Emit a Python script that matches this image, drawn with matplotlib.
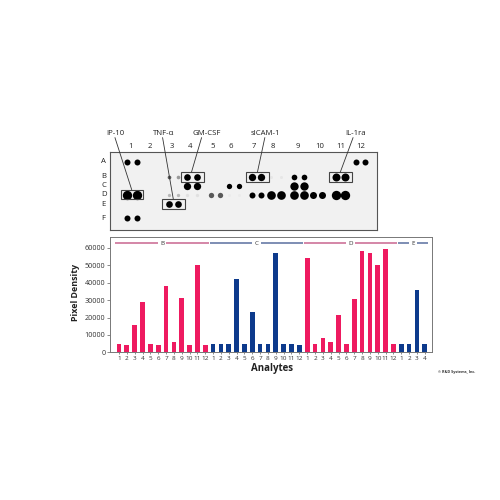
import matplotlib
matplotlib.use("Agg")
import matplotlib.pyplot as plt
from matplotlib.patches import Rectangle

plt.rcParams["font.family"] = ["Open Sans", "DejaVu Sans"]

# bar chart data
section_b = [4600, 4300, 15700, 28900, 4600, 4400, 38300, 5800, 31000, 4300, 50200, 4400]
section_c = [4500, 4500, 4500, 42000, 4500, 23000, 4500, 4500, 57100, 4600, 5000, 4200]
section_d = [54200, 4600, 8000, 5900, 21300, 5000, 30500, 58400, 57100, 50400, 59400, 4800]
section_e = [5000, 4600, 35600, 4600]
section_names = ["B", "C", "D", "E"]
y_ticks = [0, 10000, 20000, 30000, 40000, 50000, 60000]

# blot data, one duplicate pair per entry (zoomed pixel scale)
col_names = ["1", "2", "3", "4", "5", "6", "7", "8", "9", "10", "11", "12"]
col_label_x = [123, 181, 247, 301, 368, 424, 493, 550, 623, 689, 754, 813]
row_names = ["A", "B", "C", "D", "E", "F"]
row_y = [125, 170, 197, 224, 252, 294]
spot_col_x = [112, 798, 237, 292, 487, 545, 614, 739, 292, 418, 614, 112, 237, 292, 362, 418, 487, 545, 614, 670, 739, 237, 112]
spot_row = [0, 0, 1, 1, 1, 1, 1, 1, 2, 2, 2, 3, 3, 3, 3, 3, 3, 3, 3, 3, 3, 4, 5]
spot_diam = [18, 18, 11, 20, 22, 9, 17, 24, 22, 16, 25, 28, 10, 10, 16, 9, 18, 26, 26, 21, 28, 20, 18]
spot_shade = [0.0, 0.0, 0.35, 0.0, 0.0, 0.9, 0.0, 0.0, 0.0, 0.0, 0.0, 0.0, 0.72, 0.88, 0.35, 0.92, 0.0, 0.0, 0.0, 0.0, 0.0, 0.0, 0.0]
pair_gap = 28

box_names = ["IP-10", "TNF-\u03b1", "GM-CSF", "sICAM-1", "IL-1ra"]
box_left = [94, 217, 272, 469, 719]
box_top = [208, 236, 155, 155, 155]
box_bottom = [238, 266, 185, 185, 185]
box_right = [160, 284, 342, 537, 787]
label_x = [75, 220, 350, 528, 797]
line_top_x = [75, 218, 335, 525, 790]
line_end_x = [125, 250, 305, 503, 752]


def px_axes(fig, left, top, right, bottom):
    return fig.add_axes([left / 500, 1 - bottom / 500, (right - left) / 500, (bottom - top) / 500])


fig = plt.figure(figsize=(5, 5), dpi=100)

# top panel, the array image
ax_blot = px_axes(fig, 110, 152, 377, 230)
ax_blot.set_xlim(60, 862)
ax_blot.set_ylim(330, 95)
ax_blot.set_facecolor("#f1f1f1")
ax_blot.set_xticks([])
ax_blot.set_yticks([])
for sp in ax_blot.spines.values():
    sp.set_color("#555555")
    sp.set_linewidth(0.8)

for x, r, d, shade in zip(spot_col_x, spot_row, spot_diam, spot_shade):
    for k in range(2):
        # the right spot of the B3 pair is paler
        g = shade
        if k == 1 and x == 237 and r == 1:
            g = 0.6
        ax_blot.scatter(x + k * pair_gap, row_y[r], s=(d / 3 * 0.72) ** 2, color=str(g), linewidths=0, zorder=3)

for i in range(len(box_names)):
    ax_blot.add_patch(Rectangle((box_left[i], box_top[i]), box_right[i] - box_left[i], box_bottom[i] - box_top[i],
                                fill=False, edgecolor="#444444", linewidth=0.8, zorder=4))
    ax_blot.plot([line_top_x[i], line_end_x[i]], [52, box_top[i]], color="#333333", lw=0.6, clip_on=False, zorder=4)
    ax_blot.text(label_x[i], 38, box_names[i], ha="center", va="center", fontsize=5.6, color="#222222")

for name, x in zip(col_names, col_label_x):
    ax_blot.text(x, 77, name, ha="center", va="center", fontsize=5.6, color="#222222")
for name, y in zip(row_names, row_y):
    ax_blot.text(41, y, name, ha="center", va="center", fontsize=5.6, color="#222222")

# bottom panel, the densities
sections = [section_b, section_c, section_d, section_e]
colors = ["#ee1a60", "#0d3a8c", "#ee1a60", "#0d3a8c"]
line_colors = ["#c9668f", "#5a6f9f", "#c9668f", "#5a6f9f"]

ax = px_axes(fig, 110, 237, 432, 352.3)
pos = 0
ticks = []
tick_labels = []
for vals, c, lc, name in zip(sections, colors, line_colors, section_names):
    n = len(vals)
    xs = list(range(pos, pos + n))
    ax.bar(xs, vals, width=0.6, color=c)
    ticks += xs
    tick_labels += [str(j + 1) for j in range(n)]
    # section header line with the letter in the gap
    mid = pos + (n - 1) / 2
    gap = 0.55
    y_line = 62800
    ax.plot([pos - 0.45, mid - gap], [y_line, y_line], color=lc, lw=1.1, solid_capstyle="butt")
    ax.plot([mid + gap, pos + n - 0.55], [y_line, y_line], color=lc, lw=1.1, solid_capstyle="butt")
    ax.text(mid, y_line, name, ha="center", va="center", fontsize=4.5, color="#333333")
    pos += n

ax.set_xlim(-1.148, 39.92)
ax.set_ylim(0, 66300)
ax.set_xticks(ticks)
ax.set_xticklabels(tick_labels)
ax.set_yticks(y_ticks)
ax.tick_params(axis="x", length=1.5, width=0.4, pad=1.2, labelsize=4.6, colors="#333333")
ax.tick_params(axis="y", length=2, width=0.4, pad=1.2, labelsize=5.2, colors="#333333")
for sp in ax.spines.values():
    sp.set_color("#777777")
    sp.set_linewidth(0.7)

fig.text(76 / 500, 1 - 292 / 500, "Pixel Density", rotation=90, ha="center", va="center", fontsize=6.4, fontweight="bold", color="#222222")
fig.text(272 / 500, 1 - 369 / 500, "Analytes", ha="center", va="center", fontsize=7, fontweight="bold", color="#222222")
fig.text(457 / 500, 1 - 372 / 500, "\u00a9 R&D Systems, Inc.", ha="center", va="center", fontsize=2.7, fontweight="bold", color="#333333")

fig.savefig("out.png", dpi=100)
